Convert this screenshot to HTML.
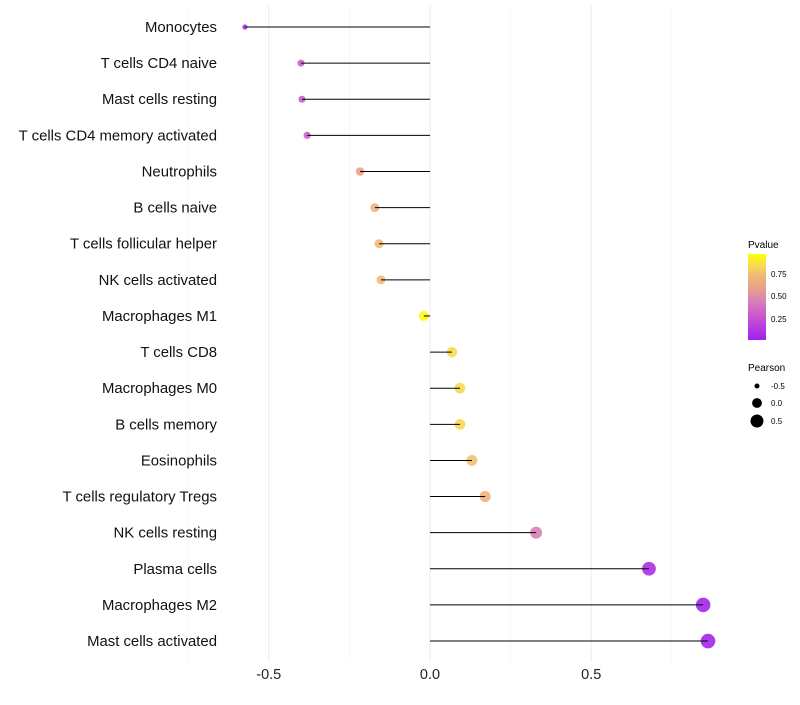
<!DOCTYPE html>
<html><head><meta charset="utf-8"><style>
body{margin:0;background:#fff;font-family:"Liberation Sans",Arial,sans-serif;}
</style></head><body>
<svg width="800" height="700" xmlns="http://www.w3.org/2000/svg">
<defs><linearGradient id="pg" x1="0" y1="1" x2="0" y2="0">
<stop offset="0" stop-color="#A020F0"/><stop offset="0.3" stop-color="#CC5CCC"/><stop offset="0.45" stop-color="#D880B8"/><stop offset="0.6" stop-color="#EAA088"/><stop offset="0.75" stop-color="#F0B878"/><stop offset="0.87" stop-color="#F8DC50"/><stop offset="1" stop-color="#FFFF00"/></linearGradient></defs>
<g id="grid"></g><g id="marks"></g><g id="labels"></g>
<g>
<text x="748" y="248" font-size="10">Pvalue</text>
<rect x="748" y="254" width="18" height="86" fill="url(#pg)"/>
<text x="771" y="277" font-size="8">0.75</text>
<text x="771" y="299" font-size="8">0.50</text>
<text x="771" y="322" font-size="8">0.25</text>
<text x="748" y="371" font-size="10">Pearson</text>
<circle cx="757" cy="386" r="2.5" fill="#000"/><text x="771" y="389" font-size="8">-0.5</text>
<circle cx="757" cy="403" r="4.9" fill="#000"/><text x="771" y="406" font-size="8">0.0</text>
<circle cx="757" cy="421" r="6.5" fill="#000"/><text x="771" y="424" font-size="8">0.5</text>
</g>
</svg>
<script>
const cells=["Monocytes","T cells CD4 naive","Mast cells resting","T cells CD4 memory activated","Neutrophils","B cells naive","T cells follicular helper","NK cells activated","Macrophages M1","T cells CD8","Macrophages M0","B cells memory","Eosinophils","T cells regulatory  Tregs","NK cells resting","Plasma cells","Macrophages M2","Mast cells activated"];
const pearson=[-0.574,-0.40,-0.397,-0.381,-0.217,-0.171,-0.158,-0.152,-0.019,0.068,0.093,0.093,0.13,0.171,0.329,0.679,0.847,0.862];
const pvalue=[0.1,0.3,0.3,0.3,0.6,0.72,0.76,0.76,0.98,0.87,0.85,0.85,0.78,0.72,0.45,0.08,0.03,0.03];
const xticks=[-0.5,0,0.5];
const xtickLabels=["-0.5","0.0","0.5"];
const stopsP=[0,0.3,0.45,0.6,0.75,0.87,1];
const stopsC=[[160,32,240],[204,92,204],[216,128,184],[234,160,136],[240,184,120],[248,220,80],[255,255,0]];
const NS="http://www.w3.org/2000/svg";
const xs=v=>430+v*322.5;
const ys=i=>27+i*36.12;
const rs=v=>Math.sqrt(Math.max(4,25.3+32.5*v));
const col=p=>{let k=0;while(k<stopsP.length-2&&p>stopsP[k+1])k++;const t=Math.max(0,Math.min(1,(p-stopsP[k])/(stopsP[k+1]-stopsP[k])));const a=stopsC[k],b=stopsC[k+1];return `rgb(${a.map((c,j)=>Math.round(c+(b[j]-c)*t)).join(",")})`;};
function mk(t,a,parent){const e=document.createElementNS(NS,t);for(const k in a)e.setAttribute(k,a[k]);parent.appendChild(e);return e;}
const grid=document.getElementById('grid'),marks=document.getElementById('marks'),labels=document.getElementById('labels');
[-0.75,-0.25,0.25,0.75].forEach(v=>{const l=mk('line',{x1:xs(v),x2:xs(v),y1:5,y2:662,stroke:'#f4f4f4','stroke-width':0.6},grid);

});
xticks.forEach((v,i)=>{const l=mk('line',{x1:xs(v),x2:xs(v),y1:5,y2:662,stroke:'#ebebeb','stroke-width':1},grid);


const t=mk('text',{x:xs(v),y:679,'font-size':14.5,'text-anchor':'middle',fill:'#222'},labels);t.textContent=xtickLabels[i];

});
cells.forEach((c,i)=>{
const y=ys(i);
const t=mk('text',{x:217,y:y+5,'font-size':14.9,'text-anchor':'end',fill:'#111'},labels);t.textContent=c;


const d=mk('circle',{cx:xs(pearson[i]),cy:y,r:rs(pearson[i]),fill:col(pvalue[i]),'fill-opacity':0.9},marks);


const s=mk('line',{x1:xs(0),x2:xs(pearson[i]),y1:y,y2:y,stroke:'#000','stroke-width':1},marks);


});
</script>
</body></html>
